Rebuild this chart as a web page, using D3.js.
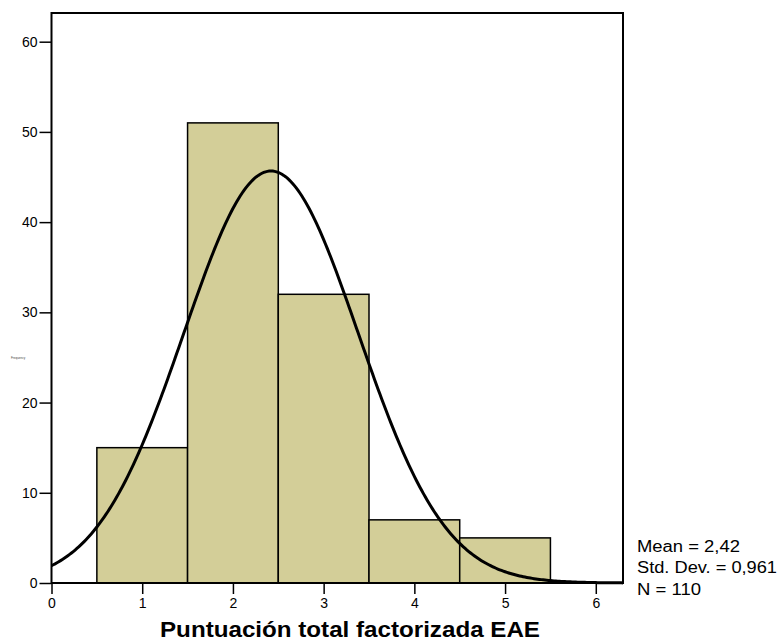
<!DOCTYPE html>
<html>
<head>
<meta charset="utf-8">
<script src="https://cdn.jsdelivr.net/npm/d3@7"></script>
<style>
  body { margin: 0; background: #fff; }
  text { font-family: "Liberation Sans", Arial, sans-serif; }
</style>
</head>
<body>
<svg id="chart" width="779" height="643"></svg>
<script>
// ---- data ----
const binStarts = [0.5, 1.5, 2.5, 3.5, 4.5];
const binEnds   = [1.5, 2.5, 3.5, 4.5, 5.5];
const counts    = [15, 51, 32, 7, 5];
const xTicks    = [0, 1, 2, 3, 4, 5, 6];
const yTicks    = [0, 10, 20, 30, 40, 50, 60];
const meanVal = 2.42, sdVal = 0.961, nVal = 110;
const statsLines = ["Mean = 2,42", "Std. Dev. = 0,961", "N = 110"];
const xTitle = "Puntuación total factorizada EAE";
const yTitle = "Frequency";

const svg = d3.select("#chart");
const L = 51.5, R = 623, T = 13, B = 583;
const x = d3.scaleLinear().domain([0, 6.3]).range([L, R]);
const y = d3.scaleLinear().domain([0, 63.18]).range([B, T]);

// bars
svg.append("g").selectAll("rect").data(counts).join("rect")
  .attr("x", (d, i) => x(binStarts[i]))
  .attr("width", (d, i) => x(binEnds[i]) - x(binStarts[i]))
  .attr("y", d => y(d))
  .attr("height", d => y(0) - y(d))
  .attr("fill", "#d3ce98")
  .attr("stroke", "#000")
  .attr("stroke-width", 1.5);

// normal curve
const binW = 1;
const pts = d3.range(0, 6.3001, 0.02).map(v => [v, nVal * binW * Math.exp(-0.5 * Math.pow((v - meanVal) / sdVal, 2)) / (sdVal * Math.sqrt(2 * Math.PI))]);
svg.append("path")
  .attr("d", d3.line().x(d => x(d[0])).y(d => y(d[1])).curve(d3.curveLinear)(pts))
  .attr("fill", "none").attr("stroke", "#000").attr("stroke-width", 3);

// frame
svg.append("rect").attr("x", L).attr("y", T).attr("width", R - L).attr("height", B - T)
  .attr("fill", "none").attr("stroke", "#000").attr("stroke-width", 2);

// axes
const yAxis = svg.append("g").attr("transform", `translate(${L},0)`)
  .call(d3.axisLeft(y).tickValues(yTicks).tickSize(12).tickPadding(2).tickFormat(d3.format("d")));
const xAxis = svg.append("g").attr("transform", `translate(0,${B})`)
  .call(d3.axisBottom(x).tickValues(xTicks).tickSize(11).tickPadding(4).tickFormat(d3.format("d")));
[yAxis, xAxis].forEach(a => {
  a.select(".domain").remove();
  a.selectAll(".tick line").attr("stroke", "#000").attr("stroke-width", 1.5);
  a.selectAll(".tick text").attr("font-size", 14).attr("fill", "#000")
    .style("font-family", "'Liberation Sans', Arial, sans-serif");
});

// x title
svg.append("text").attr("x", 160).attr("y", 637)
  .attr("font-size", 22).attr("font-weight", "bold")
  .attr("textLength", 380).attr("lengthAdjust", "spacingAndGlyphs")
  .text(xTitle);

// tiny y title (rendered minuscule, as in the reference)
svg.append("text")
  .attr("transform", "translate(11,359) scale(0.3)")
  .attr("font-size", 10).attr("fill", "#444")
  .text(yTitle);

// stats
const statsY = [552, 573, 595];
const statsW = [103, 140, 64];
svg.append("g").selectAll("text").data(statsLines).join("text")
  .attr("x", 637).attr("y", (d, i) => statsY[i])
  .attr("font-size", 16)
  .attr("textLength", (d, i) => statsW[i]).attr("lengthAdjust", "spacingAndGlyphs")
  .text(d => d);
</script>
</body>
</html>
